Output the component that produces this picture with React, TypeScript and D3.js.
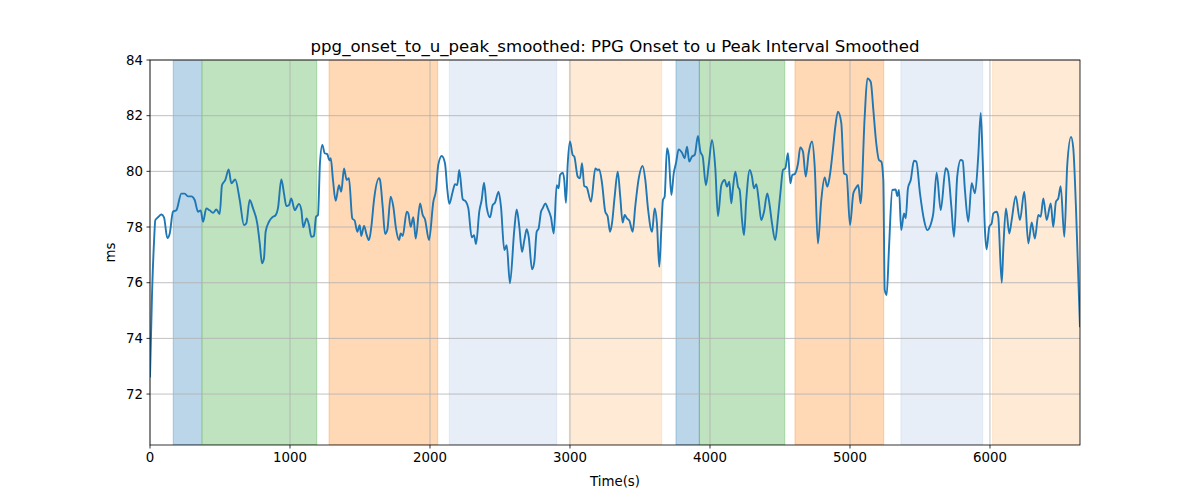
import React from "react";
import * as d3 from "d3";

const title = "ppg_onset_to_u_peak_smoothed: PPG Onset to u Peak Interval Smoothed";
const xLabel = "Time(s)";
const yLabel = "ms";
const xTicks = [0, 1000, 2000, 3000, 4000, 5000, 6000];
const yTicks = [72, 74, 76, 78, 80, 82, 84];

const spanStarts = [166, 374, 1279, 2138, 2995, 3757, 3924, 4607, 5364, 6019];
const spanEnds = [369, 1191, 2055, 2905, 3655, 3924, 4534, 5241, 5948, 6643];
const spanColors = ["#1f77b4", "#2ca02c", "#ff7f0e", "#aec7e8", "#ffbb78", "#1f77b4", "#2ca02c", "#ff7f0e", "#aec7e8", "#ffbb78"];

const times = [
  0, 14, 29, 38, 57, 81, 100, 124, 141, 164, 188, 224, 248, 271, 295, 319, 343, 362, 379, 402,
  426, 450, 474, 498, 514, 538, 562, 581, 609, 641, 671, 688, 712, 736, 766, 784, 800, 814, 826, 850,
  874, 898, 914, 938, 957, 974, 993, 1009, 1034, 1064, 1081, 1095, 1119, 1136, 1152, 1171, 1186, 1200, 1214, 1231,
  1248, 1266, 1281, 1291, 1307, 1326, 1350, 1366, 1386, 1405, 1421, 1445, 1462, 1481, 1498, 1509, 1529, 1548, 1564, 1581,
  1600, 1636, 1643, 1662, 1679, 1695, 1719, 1738, 1757, 1779, 1791, 1805, 1834, 1845, 1862, 1881, 1898, 1929, 1948, 1964,
  1993, 2024, 2043, 2059, 2084, 2107, 2124, 2138, 2162, 2179, 2195, 2209, 2234, 2257, 2274, 2298, 2314, 2329, 2352, 2369,
  2386, 2405, 2429, 2448, 2464, 2490, 2507, 2531, 2548, 2571, 2602, 2619, 2638, 2657, 2674, 2691, 2705, 2729, 2745, 2762,
  2776, 2793, 2805, 2824, 2841, 2864, 2884, 2905, 2919, 2929, 2948, 2959, 2971, 2984, 3000, 3019, 3031, 3055, 3071, 3086,
  3102, 3119, 3150, 3181, 3198, 3209, 3229, 3252, 3269, 3286, 3300, 3319, 3341, 3359, 3376, 3391, 3407, 3424, 3448, 3466,
  3491, 3519, 3538, 3557, 3586, 3605, 3621, 3638, 3652, 3664, 3676, 3693, 3705, 3724, 3741, 3757, 3776, 3800, 3819, 3836,
  3852, 3871, 3891, 3914, 3931, 3948, 3971, 3991, 4014, 4038, 4057, 4081, 4105, 4121, 4138, 4152, 4164, 4181, 4200, 4212,
  4229, 4243, 4259, 4284, 4300, 4314, 4331, 4348, 4366, 4386, 4409, 4426, 4443, 4466, 4486, 4505, 4521, 4538, 4557, 4574,
  4588, 4605, 4629, 4645, 4664, 4684, 4705, 4729, 4748, 4771, 4795, 4819, 4838, 4855, 4879, 4895, 4914, 4938, 4957, 4976,
  5000, 5024, 5041, 5059, 5076, 5105, 5124, 5148, 5167, 5184, 5207, 5224, 5238, 5248, 5262, 5279, 5302, 5326, 5338, 5350,
  5366, 5386, 5398, 5414, 5434, 5457, 5474, 5500, 5529, 5552, 5581, 5595, 5619, 5648, 5684, 5700, 5724, 5743, 5766, 5791,
  5805, 5821, 5845, 5869, 5893, 5916, 5934, 5948, 5964, 5976, 5995, 6012, 6024, 6048, 6059, 6084, 6095, 6114, 6138, 6155,
  6184, 6214, 6245, 6274, 6298, 6321, 6345, 6362, 6381, 6405, 6434, 6452, 6471, 6488, 6505, 6531, 6552, 6579, 6595, 6614,
  6643,
];

const values = [
  72.6, 75.5, 77.5, 78.25, 78.35, 78.45, 78.35, 77.6, 77.77, 78.55, 78.6, 79.2, 79.2, 79.1, 79.1, 78.97, 78.55, 78.6, 78.19, 78.67,
  78.6, 78.51, 78.63, 78.47, 79.5, 79.69, 80.07, 79.57, 79.71, 78.97, 78.07, 78.13, 78.97, 78.67, 78.13, 77.41, 76.7, 76.87, 77.83, 78.19,
  78.35, 78.43, 78.67, 79.71, 79.21, 78.75, 78.79, 79.03, 78.61, 78.83, 78.61, 77.99, 78.31, 78.07, 77.65, 77.68, 78.37, 78.43, 80.29, 80.95,
  80.65, 80.62, 80.4, 80.47, 79.69, 78.94, 79.5, 79.27, 80.1, 79.69, 79.75, 78.31, 78.23, 77.83, 78.07, 77.68, 78.04, 77.71, 77.53, 78.01,
  78.97, 79.75, 79.69, 78.73, 77.75, 77.89, 79.09, 78.73, 77.95, 77.53, 77.77, 77.68, 78.55, 78.49, 78.01, 78.35, 77.59, 78.85, 78.43, 78.28,
  77.53, 78.91, 79.33, 80.23, 80.55, 80.29, 79.33, 78.83, 79.27, 79.54, 79.51, 80.05, 79.0, 78.91, 78.67, 77.63, 77.71, 77.39, 78.55, 78.97,
  79.59, 78.71, 78.35, 78.79, 78.87, 79.27, 78.73, 77.17, 77.35, 75.98, 77.89, 78.63, 78.01, 77.11, 77.53, 77.92, 77.65, 76.48, 76.75, 77.83,
  77.95, 78.55, 78.67, 78.85, 78.67, 78.35, 77.77, 79.5, 79.39, 79.87, 79.95, 79.69, 78.87, 80.29, 81.07, 80.59, 80.53, 79.81, 79.75, 80.29,
  79.47, 79.43, 78.91, 80.1, 80.05, 80.07, 79.57, 78.55, 78.39, 77.83, 78.13, 79.09, 79.99, 79.09, 78.16, 78.43, 78.31, 78.23, 77.83, 78.73,
  79.75, 80.19, 79.69, 78.67, 77.83, 78.67, 78.13, 76.57, 77.89, 78.97, 79.09, 80.83, 80.59, 79.15, 79.93, 80.29, 80.79, 80.67, 80.47, 80.89,
  80.35, 80.53, 80.59, 81.27, 80.71, 80.53, 79.5, 80.23, 81.13, 80.11, 78.39, 79.5, 79.69, 79.45, 79.63, 78.85, 79.39, 79.99, 79.45, 79.33,
  78.25, 77.71, 78.97, 80.05, 79.81, 79.39, 79.54, 78.97, 78.25, 78.55, 79.21, 78.79, 78.13, 77.53, 78.37, 79.33, 80.05, 80.11, 80.65, 79.57,
  79.87, 79.9, 80.29, 80.86, 80.71, 79.81, 80.65, 81.07, 80.17, 77.41, 78.97, 79.78, 79.45, 79.81, 80.83, 81.6, 82.14, 81.73, 79.93, 79.87,
  78.07, 79.21, 79.39, 79.51, 78.85, 81.96, 83.34, 83.22, 82.2, 81.19, 80.41, 80.35, 79.69, 75.74, 75.56, 77.29, 79.33, 79.35, 79.11, 79.33,
  77.89, 78.49, 78.31, 79.39, 79.69, 80.38, 80.35, 79.21, 78.25, 77.89, 78.16, 78.49, 79.95, 78.61, 80.11, 79.99, 78.73, 77.65, 79.81, 80.41,
  80.38, 79.33, 78.19, 79.57, 79.21, 80.53, 82.1, 80.41, 77.89, 77.2, 78.01, 78.13, 78.49, 78.55, 78.37, 76.0, 77.2, 78.67, 77.77, 78.25,
  79.11, 78.25, 79.27, 77.41, 78.16, 77.59, 78.43, 78.37, 79.03, 78.25, 78.85, 78.01, 78.91, 79.03, 79.47, 77.65, 80.23, 81.24, 80.83, 78.73,
  74.4,
];

const W = 1200;
const H = 500;
const L = 150;
const R = 1080;
const T = 60;
const B = 445;

export default function App() {
  const x = d3.scaleLinear().domain([0, 6643]).range([L, R]);
  const y = d3.scaleLinear().domain([70.17, 84]).range([B, T]);
  const pts: [number, number][] = times.map((t, i) => [t, values[i]]);
  const line = d3
    .line<[number, number]>()
    .x((d) => x(d[0]))
    .y((d) => y(d[1]))
    .curve(d3.curveMonotoneX);
  const font = "DejaVu Sans, sans-serif";
  return (
    <svg
      width={W}
      height={H}
      style={{ position: "absolute", left: 0, top: 0, background: "#fff" }}
      fontFamily={font}
    >
      <rect x={0} y={0} width={W} height={H} fill="#fff" />
      <defs>
        <clipPath id="plot">
          <rect x={L} y={T} width={R - L} height={B - T} />
        </clipPath>
      </defs>
      <g clipPath="url(#plot)">
        {spanStarts.map((s, i) => (
          <rect
            key={i}
            x={x(s)}
            y={T}
            width={x(spanEnds[i]) - x(s)}
            height={B - T}
            fill={spanColors[i]}
            fillOpacity={0.3}
            stroke={spanColors[i]}
            strokeOpacity={0.3}
            strokeWidth={1}
          />
        ))}
      </g>
      {xTicks.map((t) => (
        <line key={"gx" + t} x1={x(t)} x2={x(t)} y1={T} y2={B} stroke="#b0b0b0" strokeWidth={0.8} />
      ))}
      {yTicks.map((t) => (
        <line key={"gy" + t} x1={L} x2={R} y1={y(t)} y2={y(t)} stroke="#b0b0b0" strokeWidth={0.8} />
      ))}
      <g clipPath="url(#plot)">
        <path d={line(pts) || ""} fill="none" stroke="#1f77b4" strokeWidth={1.9} strokeLinejoin="round" />
      </g>
      <rect x={L} y={T} width={R - L} height={B - T} fill="none" stroke="#000" strokeWidth={0.8} />
      {xTicks.map((t) => (
        <g key={"xt" + t}>
          <line x1={x(t)} x2={x(t)} y1={B} y2={B + 3.5} stroke="#000" strokeWidth={0.8} />
          <text x={x(t)} y={B + 17} textAnchor="middle" fontSize={13.33} fill="#000">
            {t}
          </text>
        </g>
      ))}
      {yTicks.map((t) => (
        <g key={"yt" + t}>
          <line x1={L - 3.5} x2={L} y1={y(t)} y2={y(t)} stroke="#000" strokeWidth={0.8} />
          <text x={L - 7} y={y(t)} dy="0.35em" textAnchor="end" fontSize={13.33} fill="#000">
            {t}
          </text>
        </g>
      ))}
      <text x={(L + R) / 2} y={486} textAnchor="middle" fontSize={13.33} fill="#000">
        {xLabel}
      </text>
      <text
        transform={`translate(115,${(T + B) / 2}) rotate(-90)`}
        textAnchor="middle"
        fontSize={13.33}
        fill="#000"
      >
        {yLabel}
      </text>
      <text x={(L + R) / 2} y={52} textAnchor="middle" fontSize={16.6} fill="#000">
        {title}
      </text>
    </svg>
  );
}
